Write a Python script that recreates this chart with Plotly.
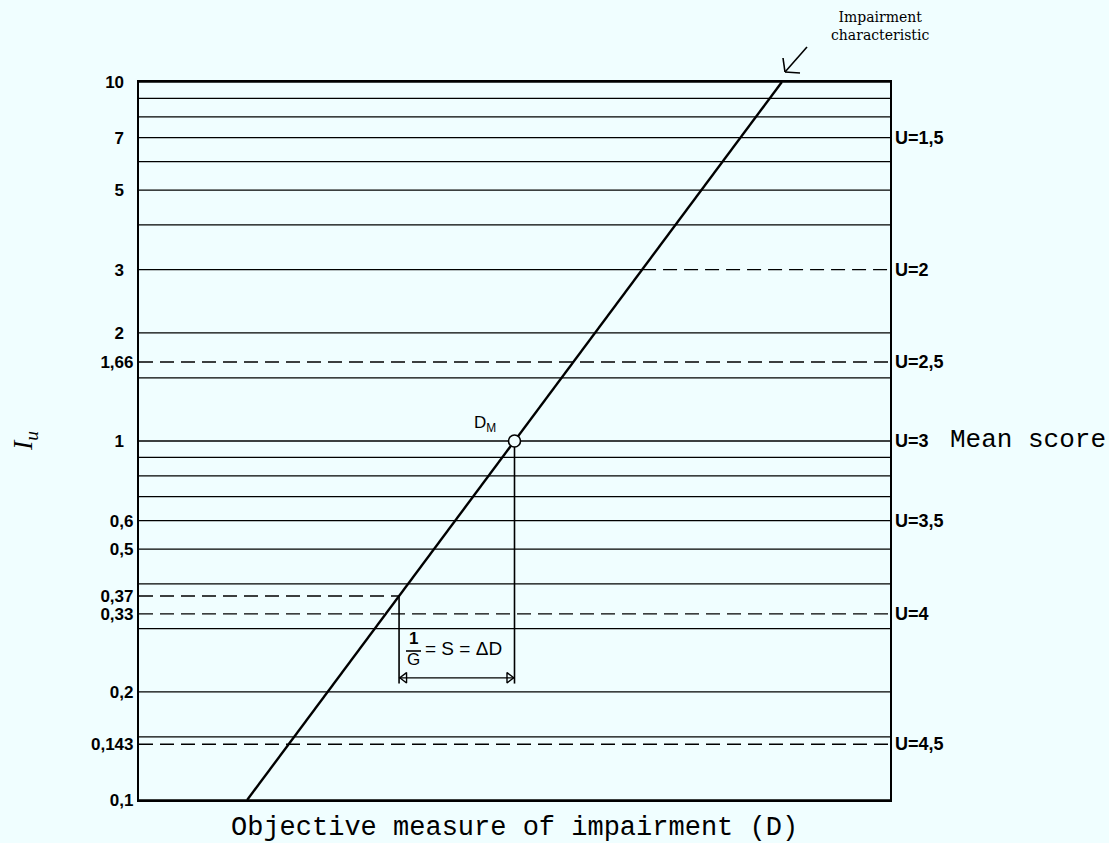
import numpy as np
import plotly.graph_objects as go

# ---------------- data ----------------
solid_levels = [0.1, 0.15, 0.2, 0.3, 0.4, 0.5, 0.6, 0.7, 0.8, 0.9,
                1, 1.5, 2, 4, 5, 6, 7, 8, 9, 10]
dashed_levels = [0.143, 0.33, 1.66]
split_level = 3        # solid left of the characteristic, dashed to the right
partial_level = 0.37   # dashed from the axis to the characteristic

tick_vals = [0.1, 0.143, 0.2, 0.33, 0.37, 0.5, 0.6, 1, 1.66, 2, 3, 5, 7, 10]
tick_text = ["0,1", "0,143", "0,2", "0,33", "0,37", "0,5", "0,6",
             "1", "1,66", "2", "3", "5", "7", "10"]

u_levels = [7, 3, 1.66, 1, 0.6, 0.33, 0.143]
u_labels = ["U=1,5", "U=2", "U=2,5", "U=3", "U=3,5", "U=4", "U=4,5"]

char_D = [14.4, 85.6]   # impairment characteristic (objective measure D)
char_I = [0.1, 10]
I_M = 1.0               # mean score point
I_low = 0.37
arrow_I = 0.219
drop_I = 0.211
D_range = [0, 100]

# ---------------- derived ----------------
def D_at(I):
    return float(np.interp(np.log10(I), np.log10(char_I), char_D))

D_M = D_at(I_M)
D_low = D_at(I_low)
D_split = D_at(split_level)

BG = "#F0FEFF"
DASH = "14px,7px"
GRID_W = 1.3

fig = go.Figure()

def hline(x, y, dash="solid", w=GRID_W):
    fig.add_trace(go.Scatter(x=x, y=y, mode="lines",
                             line=dict(color="black", width=w, dash=dash),
                             hoverinfo="skip"))

for v in solid_levels:
    hline(D_range, [v, v])
for v in dashed_levels:
    hline(D_range, [v, v], DASH)
hline([D_range[0], D_split], [split_level] * 2)
hline([D_split, D_range[1]], [split_level] * 2, DASH)
hline([D_range[0], D_low], [partial_level] * 2, DASH)

# characteristic
hline(char_D, char_I, w=2.4)

# verticals down to the arrow
hline([D_low, D_low], [I_low, drop_I], w=1.6)
hline([D_M, D_M], [I_M, drop_I], w=1.6)

# double arrow
head_off = 0.7
hline([D_low, D_M], [arrow_I, arrow_I], w=1.3)
fig.add_trace(go.Scatter(x=[D_low + head_off, D_M - head_off], y=[arrow_I, arrow_I],
                         mode="markers",
                         marker=dict(symbol=["triangle-left-open", "triangle-right-open"],
                                     size=9, color="black", line=dict(width=1.4, color="black")),
                         hoverinfo="skip"))

# D_M circle
fig.add_trace(go.Scatter(x=[D_M], y=[I_M], mode="markers",
                         marker=dict(symbol="circle", size=12, color=BG,
                                     line=dict(color="black", width=1.6)),
                         hoverinfo="skip"))

ytext = [t if "," in t else t + "\u00a0\u00a0" for t in tick_text]

fig.update_layout(
    width=1109, height=843,
    margin=dict(l=139, r=219, t=82, b=43, pad=0),
    paper_bgcolor=BG, plot_bgcolor=BG,
    showlegend=False,
    xaxis=dict(range=D_range, showgrid=False, zeroline=False, showticklabels=False,
               ticks="", showline=True, mirror=True, linecolor="black", linewidth=2),
    yaxis=dict(type="log", range=[-1, 1], showgrid=False, zeroline=False,
               tickvals=tick_vals, ticktext=ytext, ticks="",
               tickfont=dict(family="Liberation Sans", size=17, color="black", weight="bold"),
               showline=True, mirror=True, linecolor="black", linewidth=2.2),
)

ann = []
for v, t in zip(u_levels, u_labels):
    ann.append(dict(x=1, xref="paper", y=np.log10(v), yref="y", text=t,
                    xanchor="left", yanchor="middle", xshift=3, showarrow=False,
                    font=dict(family="Liberation Sans", size=18, color="black", weight="bold")))
ann.append(dict(x=1, xref="paper", y=0, yref="y", text="Mean score",
                xanchor="left", yanchor="middle", xshift=58, yshift=1, showarrow=False,
                font=dict(family="Liberation Mono", size=26, color="black")))
ann.append(dict(x=0.5, xref="paper", y=0, yref="paper", text="Objective measure of impairment (D)",
                xanchor="center", yanchor="middle", yshift=-28, showarrow=False,
                font=dict(family="Liberation Mono", size=27, color="black")))
ann.append(dict(x=0, xref="paper", y=0, yref="y", text="<i>I<sub>u</sub></i>",
                xanchor="center", yanchor="middle", xshift=-115, textangle=-90, showarrow=False,
                font=dict(family="Liberation Serif", size=28, color="black")))
ann.append(dict(x=D_M, xref="x", y=np.log10(I_M), yref="y", text="D<sub>M</sub>",
                xanchor="center", yanchor="middle", xshift=-30, yshift=17, showarrow=False,
                font=dict(family="Liberation Sans", size=17, color="black")))
# 1/G = S = ΔD
ann.append(dict(x=D_low, xref="x", y=np.log10(arrow_I), yref="y", text="1",
                xanchor="center", yanchor="middle", xshift=14, yshift=39, showarrow=False,
                font=dict(family="Liberation Sans", size=17, color="black", weight="bold")))
ann.append(dict(x=D_low, xref="x", y=np.log10(arrow_I), yref="y", text="G",
                xanchor="center", yanchor="middle", xshift=14, yshift=18, showarrow=False,
                font=dict(family="Liberation Sans", size=17, color="black")))
ann.append(dict(x=D_low, xref="x", y=np.log10(arrow_I), yref="y", text="= S = ΔD",
                xanchor="left", yanchor="middle", xshift=24, yshift=29, showarrow=False,
                font=dict(family="Liberation Sans", size=19, color="black")))
ann.append(dict(x=1, xref="paper", y=1, yref="paper", text="Impairment<br>characteristic",
                xanchor="center", yanchor="bottom", xshift=-10, yshift=37, showarrow=False,
                font=dict(family="DejaVu Serif", size=14, color="black")))
fig.update_layout(annotations=ann)

# decorative pointers (paper coordinates from pixel positions)
L, T, W, H = 139, 82, 751, 718
def px(xp, yp):
    return (xp - L) / W, (T + H - yp) / H

shapes = []
def seg(p0, p1, w=1.6):
    a = px(*p0); b = px(*p1)
    shapes.append(dict(type="line", xref="paper", yref="paper",
                       x0=a[0], y0=a[1], x1=b[0], y1=b[1],
                       line=dict(color="black", width=w)))
# fraction bar
seg((406, 651), (421, 651), 1.6)
# arrow to the characteristic
seg((807, 47), (785, 72))
seg((785, 72), (783, 58))
seg((785, 72), (800, 73))
fig.update_layout(shapes=shapes)

fig.write_html("out.html",
               config={"displayModeBar": False},
               post_script="document.body.style.margin='0px';document.body.style.background='%s';" % BG)
